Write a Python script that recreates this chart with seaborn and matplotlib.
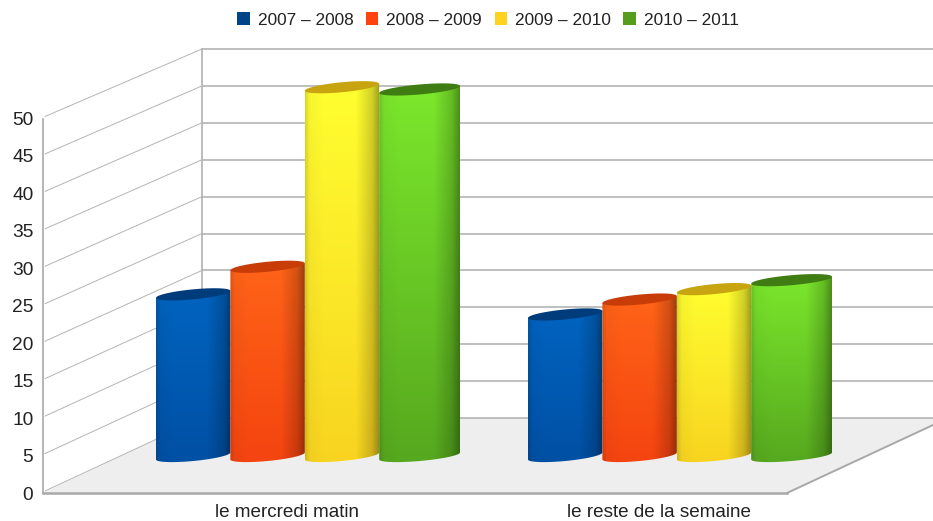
import numpy as np
import pandas as pd
import seaborn as sns
import matplotlib
matplotlib.use('Agg')
import matplotlib.pyplot as plt
from matplotlib.patches import Patch, Polygon
from matplotlib.path import Path

categories = ['le mercredi matin', 'le reste de la semaine']
periods = ['2007 – 2008', '2008 – 2009', '2009 – 2010', '2010 – 2011']
values_2007 = [21.7, 19.0]
values_2008 = [25.4, 21.0]
values_2009 = [49.5, 22.4]
values_2010 = [49.2, 23.6]
y_ticks = [0, 5, 10, 15, 20, 25, 30, 35, 40, 45, 50]

legend_colors = ['#004586', '#ff420e', '#ffd320', '#579d1c']
# colours of each cylinder: top of body, bottom of body, cap
body_top = ['#0064c0', '#ff6418', '#ffff30', '#7ce82c']
body_bottom = ['#0050a4', '#f44410', '#f8d420', '#56a81e']
cap_colors = ['#003c7c', '#c83c08', '#c8a410', '#3f7c12']

W, H = 933, 521
UNIT = 7.45  # pixels per unit on the bars plane

sns.set_theme(style='white')
plt.rcParams['font.family'] = ['Liberation Sans', 'DejaVu Sans']

df = pd.DataFrame({
    'groupe': categories * 4,
    'periode': np.repeat(periods, 2),
    'valeur': values_2007 + values_2008 + values_2009 + values_2010,
})


def px_axes(fig, left, top, right, bottom, zorder):
    return fig.add_axes([left / W, 1 - bottom / H, (right - left) / W, (bottom - top) / H], zorder=zorder)


def rgb(c):
    return np.array(matplotlib.colors.to_rgb(c))


fig = plt.figure(figsize=(W / 100, H / 100), dpi=100, facecolor='white')

# walls and floor, in pixels
bg = px_axes(fig, 0, 0, W, H, 0)
bg.set_xlim(0, W)
bg.set_ylim(H, 0)
bg.axis('off')
bg.add_patch(Polygon([(43, 493), (787, 493), (933, 425), (933, 418), (202, 418)], fc='#eeeeee', ec='none'))
bg.plot([787, 933], [493, 425], color='#a8a8a8', lw=1.4)
bg.plot([202, 202], [49, 418], color='#b0b0b0', lw=1.2)
for v in y_ticks:
    y_front = 493 - v * 7.49
    y_back = 418 - v * 7.38
    bg.plot([45, 202], [y_front - 2, y_back], color='#b4b4b4', lw=0.7)
    bg.plot([202, W], [y_back, y_back], color='#b4b4b4', lw=1.2)

# front plane carries the real axis and tick labels
front = px_axes(fig, 43, 118.5, 787, 493, 1)
front.patch.set_alpha(0)
front.set_xlim(-0.655, 1.345)
front.set_ylim(0, 50)
front.set_yticks(y_ticks)
front.set_xticks([0, 1])
front.set_xticklabels(categories)
front.tick_params(axis='y', length=0, pad=7, labelsize=13.8, labelcolor='#222222')
front.tick_params(axis='x', length=0, pad=8, labelsize=13.6, labelcolor='#222222')
for side in ['top', 'right']:
    front.spines[side].set_visible(False)
for side in ['left', 'bottom']:
    front.spines[side].set_color('#a8a8a8')
front.spines['left'].set_linewidth(1.2)
front.spines['bottom'].set_linewidth(1.8)

# bars plane, halfway into the depth
ax = px_axes(fig, 118.8, 456 - 52 * UNIT, 862.8, 456 + 2 * UNIT, 2)
sns.barplot(data=df, x='groupe', y='valeur', hue='periode', palette=legend_colors,
            width=0.8, gap=0, legend=False, ax=ax)
xlim = (-0.5, 1.5)
ylim = (-2, 52)

per_y = 1 / UNIT  # data units for one pixel
per_x = 2 / 744
SWEEP = 5 * per_y
TILT = 3.5 * per_y
LAST_EXTRA = 6.4 * per_x  # the last cylinder of a group looks wider


def ellipse(xc, a, yc, t):
    return np.column_stack([xc + a * np.cos(t), yc + SWEEP * np.sin(t) + TILT * np.cos(t)])


def shade(n):
    # round look: dark at right, slightly dark at left
    u = np.linspace(0, 1, n)
    return np.interp(u, [0, 0.06, 0.25, 0.68, 0.9, 1], [0.85, 0.97, 1.0, 1.0, 0.82, 0.62])


z = 3
for i, container in enumerate(ax.containers):
    for bar in container:
        x0, w, h = bar.get_x(), bar.get_width(), bar.get_height()
        bar.set_visible(False)
        if i == len(ax.containers) - 1:
            w += LAST_EXTRA
        xc, a = x0 + w / 2, w / 2
        lower = ellipse(xc, a, 0, np.linspace(np.pi, 2 * np.pi, 40))
        upper = ellipse(xc, a, h, np.array([0, np.pi]))
        outline = np.vstack([lower, upper, lower[:1]])
        body = Path(outline, closed=True)

        vert = np.linspace(0, 1, 64)[:, None]
        col = rgb(body_top[i]) * (1 - vert) + rgb(body_bottom[i]) * vert
        img = col[:, None, :] * shade(128)[None, :, None]
        im = ax.imshow(np.clip(img, 0, 1), extent=(x0, x0 + w, -1, h + 1), aspect='auto',
                       origin='upper', zorder=z, interpolation='bilinear')
        im.set_clip_path(body, transform=ax.transData)

        cap = ellipse(xc, a, h, np.linspace(0, 2 * np.pi, 60))
        ax.add_patch(Polygon(cap, closed=True, fc=cap_colors[i], ec='none', zorder=z + 0.5))
        z += 1

ax.set_xlim(*xlim)
ax.set_ylim(*ylim)
ax.axis('off')

handles = [Patch(fc=c, ec='none', label=p) for c, p in zip(legend_colors, periods)]
fig.legend(handles=handles, loc='upper center', bbox_to_anchor=(488 / W, 1.006), ncol=4, frameon=False,
           fontsize=12.4, handlelength=0.72, handleheight=0.72, handletextpad=0.45,
           columnspacing=0.74, labelcolor='#222222', borderaxespad=0.5)

fig.savefig('out.png', dpi=100, facecolor='white')
